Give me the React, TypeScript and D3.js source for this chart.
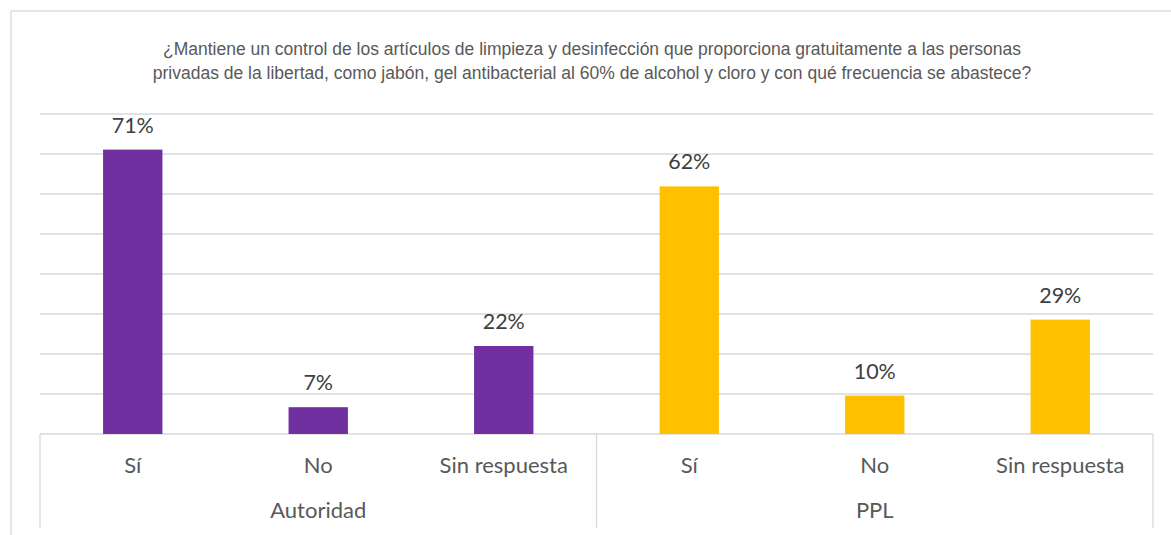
import React from "react";
import * as d3 from "d3";

const groups = ["Autoridad", "PPL"];
const answers = ["Sí", "No", "Sin respuesta"];
const autoridadValues = [0.711, 0.067, 0.22];
const pplValues = [0.619, 0.096, 0.286];
const groupColors = ["#7030A0", "#FFC000"];
const yTicks = [0, 0.1, 0.2, 0.3, 0.4, 0.5, 0.6, 0.7, 0.8];
const titleLines = [
  "¿Mantiene un control de los artículos de limpieza y desinfección que proporciona gratuitamente a las personas",
  "privadas de la libertad, como jabón, gel antibacterial al 60% de alcohol y cloro y con qué frecuencia se abastece?",
];

const W = 1171;
const H = 535;
const plotLeft = 40;
const plotRight = 1153;
const plotTop = 114;
const plotBottom = 434;

export default function App() {
  const rows = groups.flatMap((g, gi) =>
    answers.map((a, ai) => ({
      key: g + "-" + a,
      group: g,
      gi,
      answer: a,
      value: (gi === 0 ? autoridadValues : pplValues)[ai],
    }))
  );
  const x = d3
    .scaleBand<string>()
    .domain(rows.map((r) => r.key))
    .range([plotLeft, plotRight])
    .paddingInner(0.68)
    .paddingOuter(0.34);
  const y = d3.scaleLinear().domain([0, 0.8]).range([plotBottom, plotTop]);
  const fmt = d3.format(".0%");
  const step = x.step();
  const groupW = step * answers.length;
  const labelFont = "Lato, 'Open Sans', sans-serif";

  return (
    <svg width={W} height={H} style={{ position: "absolute", left: 0, top: 0 }}>
      <rect x={11} y={11} width={W + 10} height={H + 10} fill="#fff" stroke="#d9d9d9" strokeWidth={1.3} />
      {titleLines.map((t, i) => (
        <text
          key={i}
          x={592}
          y={55 + i * 24}
          textAnchor="middle"
          fontFamily="'Liberation Sans', Arial, sans-serif"
          fontSize={17.5}
          fill="#595959"
        >
          {t}
        </text>
      ))}
      {yTicks.map((t) => (
        <line key={t} x1={plotLeft} x2={plotRight} y1={y(t)} y2={y(t)} stroke="#d9d9d9" strokeWidth={1.3} />
      ))}
      {rows.map((r) => (
        <g key={r.key}>
          <rect
            x={x(r.key)}
            y={y(r.value)}
            width={x.bandwidth()}
            height={plotBottom - y(r.value)}
            fill={groupColors[r.gi]}
          />
          <text
            x={(x(r.key) as number) + x.bandwidth() / 2}
            y={y(r.value) - 17}
            textAnchor="middle"
            fontFamily={labelFont}
            fontSize={21.5}
            fill="#404040"
          >
            {fmt(r.value)}
          </text>
          <text
            x={(x(r.key) as number) + x.bandwidth() / 2}
            y={473}
            textAnchor="middle"
            fontFamily={labelFont}
            fontSize={22}
            fill="#595959"
          >
            {r.answer}
          </text>
        </g>
      ))}
      {[0, 1, 2].map((i) => (
        <line
          key={i}
          x1={plotLeft + i * groupW}
          x2={plotLeft + i * groupW}
          y1={plotBottom}
          y2={528}
          stroke="#d9d9d9"
          strokeWidth={1.3}
        />
      ))}
      {groups.map((g, i) => (
        <text
          key={g}
          x={plotLeft + i * groupW + groupW / 2}
          y={518}
          textAnchor="middle"
          fontFamily={labelFont}
          fontSize={22}
          fill="#595959"
        >
          {g}
        </text>
      ))}
    </svg>
  );
}
